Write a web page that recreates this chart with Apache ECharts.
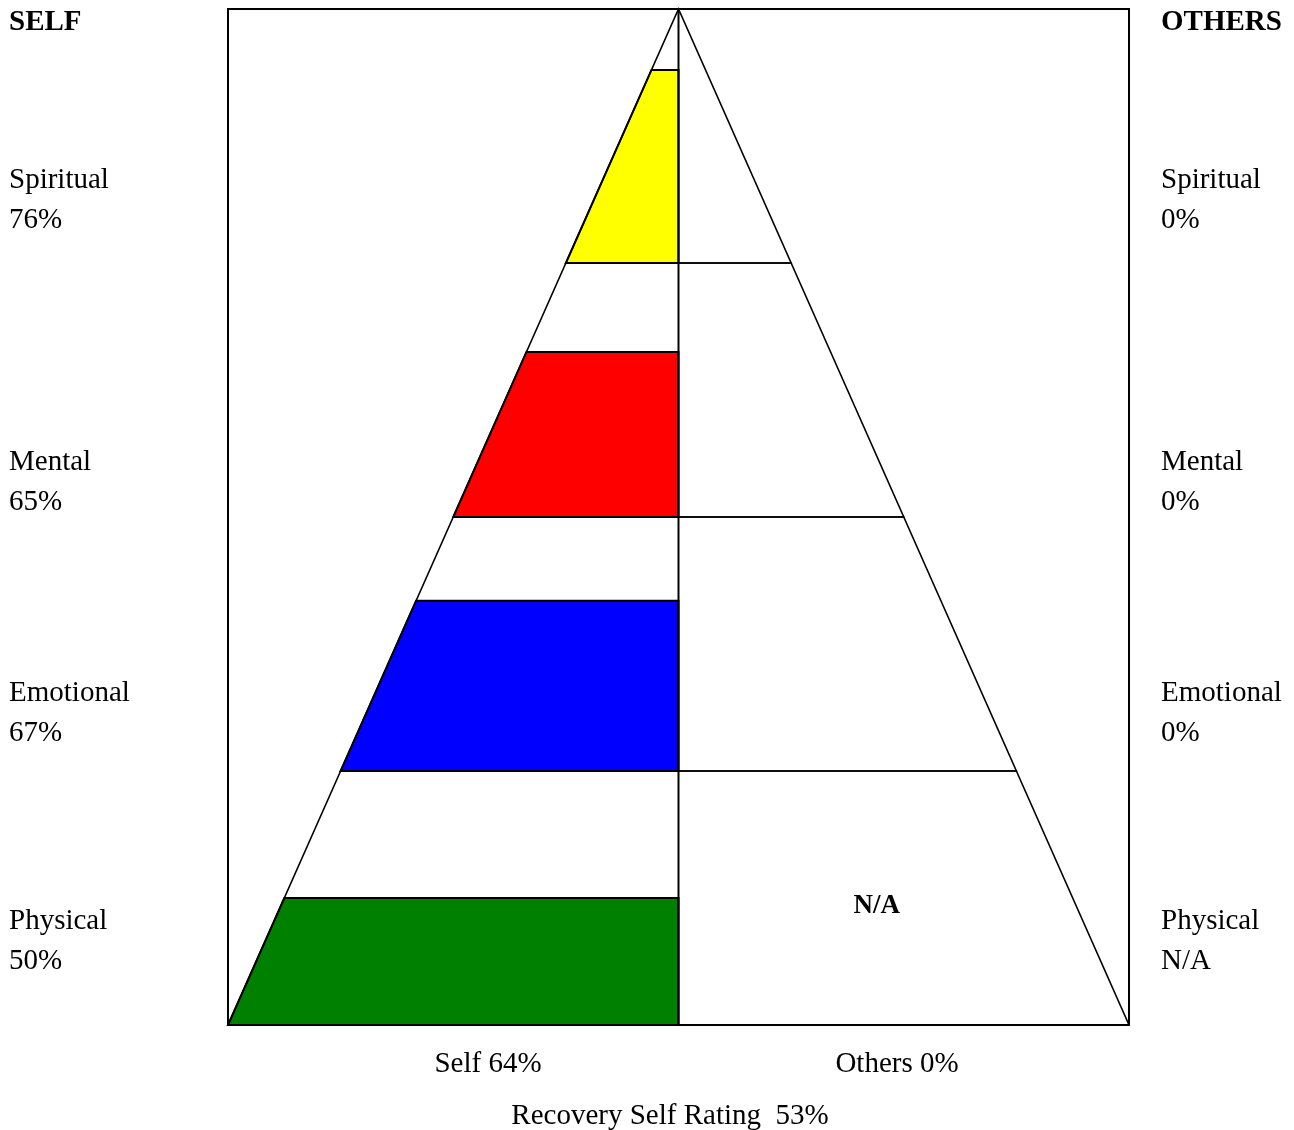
<!DOCTYPE html>
<html>
<head>
<meta charset="utf-8">
<script src="https://cdn.jsdelivr.net/npm/echarts@6/dist/echarts.min.js"></script>
<style>html,body{margin:0;padding:0;background:#fff;}#chart{width:1294px;height:1130px;}</style>
</head>
<body>
<div id="chart"></div>
<script>
// Sections, bottom to top
var categories = ['Physical', 'Emotional', 'Mental', 'Spiritual'];
var selfValues = [50, 67, 65, 76];
var othersValues = [null, 0, 0, 0]; // null = N/A
var selfTotal = 64;
var othersTotal = 0;
var recoveryRating = 53;

var fillColors = ['#008000', '#0000ff', '#ff0000', '#ffff00'];
var FONT = '"Liberation Serif", "Times New Roman", serif';
var N = categories.length;

function halfWidth(y) { return 1 - y / N; }

var chart = echarts.init(document.getElementById('chart'));

function fmt(v) { return v === null ? 'N/A' : v + '%'; }

// label positions (pixel) for each section's side labels, bottom to top
var labelY = [919, 691, 460, 178];
var graphics = [];
graphics.push({type:'text', left: 9, top: 8, style:{text:'SELF', font:'bold 29px ' + FONT, fill:'#000'}});
graphics.push({type:'text', left: 1161, top: 8, style:{text:'OTHERS', font:'bold 29px ' + FONT, fill:'#000'}});
for (var i = 0; i < N; i++) {
  graphics.push({type:'text', left: 9, top: labelY[i] - 18, style:{text: categories[i] + '\n' + fmt(selfValues[i]), font:'29px ' + FONT, lineHeight: 40, fill:'#000'}});
  graphics.push({type:'text', left: 1161, top: labelY[i] - 18, style:{text: categories[i] + '\n' + fmt(othersValues[i]), font:'29px ' + FONT, lineHeight: 40, fill:'#000'}});
}
graphics.push({type:'text', x: 488, y: 1064, style:{text:'Self ' + selfTotal + '%', font:'29px ' + FONT, fill:'#000', align:'center', verticalAlign:'middle'}});
graphics.push({type:'text', x: 897, y: 1064, style:{text:'Others ' + othersTotal + '%', font:'29px ' + FONT, fill:'#000', align:'center', verticalAlign:'middle'}});
graphics.push({type:'text', x: 670, y: 1116, style:{text:'Recovery Self Rating  ' + recoveryRating + '%', font:'29px ' + FONT, fill:'#000', align:'center', verticalAlign:'middle'}});

var fillData = [];
for (var i = 0; i < N; i++) {
  fillData.push([i, selfValues[i], -1]);
  fillData.push([i, othersValues[i], 1]);
}

var option = {
  animation: false,
  backgroundColor: '#fff',
  grid: {left: 228, top: 9, width: 901, height: 1016, show: true, borderColor: '#000', borderWidth: 2, backgroundColor: 'transparent'},
  xAxis: {type: 'value', min: -1, max: 1, show: false},
  yAxis: {type: 'value', min: 0, max: N, show: false},
  graphic: graphics,
  series: [
    {
      type: 'custom',
      name: 'fills',
      coordinateSystem: 'cartesian2d',
      data: fillData,
      renderItem: function (params, api) {
        var sec = api.value(0), v = api.value(1), side = api.value(2);
        if (isNaN(v) || v <= 0) return null;
        var y0 = sec, y1 = sec + v / 100;
        var pts = [
          api.coord([side * halfWidth(y0), y0]),
          api.coord([0, y0]),
          api.coord([0, y1]),
          api.coord([side * halfWidth(y1), y1])
        ];
        return {type: 'polygon', shape: {points: pts}, style: {fill: fillColors[sec], stroke: '#000', lineWidth: 2}};
      },
      z: 2
    },
    {
      type: 'custom',
      name: 'frame',
      coordinateSystem: 'cartesian2d',
      data: categories.map(function (c, i) { return [i]; }),
      renderItem: function (params, api) {
        var sec = api.value(0);
        var y0 = sec, y1 = sec + 1;
        var pts = [
          api.coord([-halfWidth(y0), y0]),
          api.coord([halfWidth(y0), y0]),
          api.coord([halfWidth(y1), y1]),
          api.coord([-halfWidth(y1), y1])
        ];
        var children = [
          {type: 'polygon', shape: {points: pts}, style: {fill: 'none', stroke: '#000', lineWidth: 1.6}},
          {type: 'line', shape: {x1: api.coord([0, y0])[0], y1: api.coord([0, y0])[1], x2: api.coord([0, y1])[0], y2: api.coord([0, y1])[1]}, style: {stroke: '#000', lineWidth: 2}}
        ];
        if (othersValues[sec] === null) {
          var p = api.coord([halfWidth(y0) * 0.44, y0 + 0.47]);
          children.push({type: 'text', x: p[0], y: p[1], style: {text: 'N/A', font: 'bold 27px ' + FONT, fill: '#000', align: 'center', verticalAlign: 'middle'}});
        }
        return {type: 'group', children: children};
      },
      z: 3
    }
  ]
};
chart.setOption(option);
</script>
</body>
</html>
